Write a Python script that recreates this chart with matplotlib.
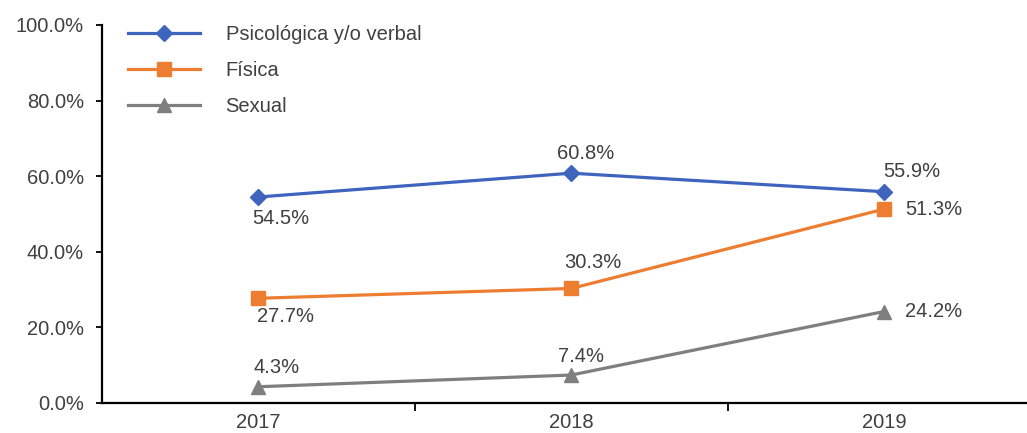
import matplotlib.pyplot as plt
import numpy as np

plt.rcParams['font.family'] = ['Liberation Sans', 'DejaVu Sans']

years = ['2017', '2018', '2019']
psicologica = [54.5, 60.8, 55.9]
fisica = [27.7, 30.3, 51.3]
sexual = [4.3, 7.4, 24.2]
series_names = ['Psicológica y/o verbal', 'Física', 'Sexual']

# label offsets in pixels (dx, dy) relative to each point
offsets = {
    'Psicológica y/o verbal': [(-6, -22), (-14, 20), (-1, 20)],
    'Física': [(-1, -18), (-7, 26), (21, 0)],
    'Sexual': [(-5, 19), (-13, 19), (21, 0)],
}

colors = ['#3F64BE', '#ED7D31', '#7F7F7F']
markers = ['D', 's', '^']
msizes = [8, 9.5, 9.5]
fs = 14.5

fig = plt.figure(figsize=(10.27, 4.33), dpi=100)
ax = fig.add_axes([102 / 1027, 30 / 433, 925 / 1027, 378 / 433])

x = np.arange(len(years))
for name, vals, c, m, ms in zip(series_names, [psicologica, fisica, sexual], colors, markers, msizes):
    ax.plot(x, vals, color=c, marker=m, markersize=ms, linewidth=2.3, label=name)
    for xi, v, (dx, dy) in zip(x, vals, offsets[name]):
        ax.annotate(f'{v:.1f}%', xy=(xi, v), xytext=(dx, dy), textcoords='offset pixels',
                    ha='left', va='center', fontsize=fs, color='#404040')

ax.set_xlim(-0.5, 2.457)
ax.set_ylim(0, 100)
ax.set_yticks(np.arange(0, 101, 20))
ax.set_yticklabels([f'{v:.1f}%' for v in np.arange(0, 101, 20)])
ax.set_xticks(x)
ax.set_xticklabels(years)
ax.set_xticks([0.5, 1.5], minor=True)

for s in ['top', 'right']:
    ax.spines[s].set_visible(False)
for s in ['left', 'bottom']:
    ax.spines[s].set_linewidth(1.6)
    ax.spines[s].set_color('black')

ax.tick_params(axis='y', direction='out', length=4, width=1.3, pad=9, labelsize=fs, labelcolor='#404040')
ax.tick_params(axis='x', which='major', length=0, pad=7, labelsize=fs, labelcolor='#404040')
ax.tick_params(axis='x', which='minor', direction='out', length=6, width=1.3)

ax.legend(loc='upper left', bbox_to_anchor=(0.028, 1.0), frameon=False, fontsize=fs,
          handlelength=3.6, handletextpad=1.25, labelspacing=0.85, borderpad=0,
          borderaxespad=0, labelcolor='#404040')

fig.savefig('out.png', dpi=100)
